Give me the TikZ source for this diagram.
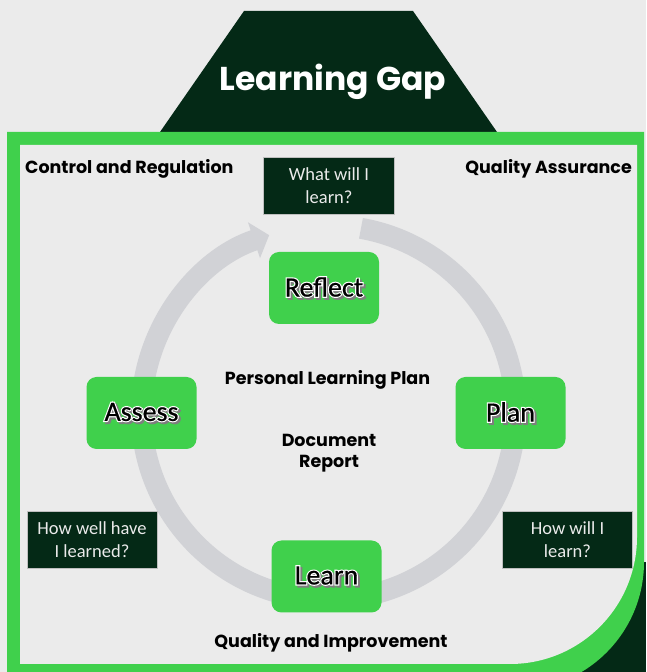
\documentclass[tikz,border=0pt]{standalone}
\usepackage{fontspec}
\usetikzlibrary{arrows.meta}
\newfontfamily\popfont{Poppins}
\newfontfamily\calfont{Carlito}
\newfontfamily\calthick[FakeBold=0.6]{Carlito}
\newfontfamily\calglow[FakeBold=9]{Carlito}
\definecolor{darkGreen}{HTML}{042916}
\definecolor{brightGreen}{HTML}{40D04C}
\definecolor{ringGray}{HTML}{D1D2D6}
\definecolor{paperGray}{HTML}{EBEBEB}
\definecolor{shadeGray}{HTML}{7E7E7E}
\newcommand\stagetext[1]{%
  \makebox[0pt][l]{\hspace{2pt}\raisebox{-2pt}{\calglow\color{shadeGray}#1}}%
  \makebox[0pt][l]{\calglow\color{white}#1}%
  {\calthick#1}}
\begin{document}
\begin{tikzpicture}[x=1pt, y=1pt,
    stageStyle/.style={rectangle, rounded corners=10pt, fill=brightGreen, minimum width=110pt, minimum height=72pt, font=\calfont\fontsize{28}{30}\selectfont},
    questionStyle/.style={rectangle, fill=darkGreen, draw=white!75!black, line width=0.8pt, minimum width=131pt, minimum height=57pt, inner sep=0pt, text=white!92!black, align=center, font=\calfont\fontsize{18.5}{23}\selectfont},
    labelStyle/.style={inner sep=0pt, font=\popfont\bfseries\fontsize{17.5}{21}\selectfont}]
    \useasboundingbox[fill=paperGray] (0,0) rectangle (646,672);

    % title block
    \fill[darkGreen] (244,661) -- (413,661) -- (497,540) -- (160,540) -- cycle;
    \node[anchor=base, text=white, font=\popfont\bfseries\fontsize{33}{40}\selectfont] (gapTitle) at (333,581) {Learning Gap};

    % frame
    \fill[darkGreen] (560,0) rectangle (646,110);
    \fill[brightGreen] (7,540) -- (644,540) -- (644,110) arc[start angle=0, end angle=-90, radius=128] -- (7,-18) -- cycle;
    \fill[paperGray] (20,527) -- (637,527) -- (637,135) arc[start angle=0, end angle=-90, radius=127] -- (20,8) -- cycle;

    % cycle
    \coordinate (hub) at (328.5,259.5);
    \draw[ringGray, line width=21pt, -{Triangle[length=16pt, width=37pt]}] ([shift={(80:187)}]hub) arc[start angle=80, end angle=-251.5, radius=187];

    \node[stageStyle] (reflect) at (324,384)   {\stagetext{Reflect}};
    \node[stageStyle] (assess)  at (141.5,259) {\stagetext{Assess}};
    \node[stageStyle] (plan)    at (510.5,259) {\stagetext{Plan}};
    \node[stageStyle] (learn)   at (326.5,95.5) {\stagetext{Learn}};

    \node[questionStyle] (whatQ)    at (329,486.5) {What will I\\learn?};
    \node[questionStyle, minimum width=130pt] (howWellQ) at (92,132.5)  {How well have\\I learned?};
    \node[questionStyle, minimum width=130pt] (howQ)     at (567.5,132.5) {How will I\\learn?};

    % labels
    \node[labelStyle, anchor=base west] (controlLbl)   at (25,498)    {Control and Regulation};
    \node[labelStyle, anchor=base east] (assuranceLbl) at (632,498)   {Quality Assurance};
    \node[labelStyle, anchor=base]      (planLbl)      at (327.5,287) {Personal Learning Plan};
    \node[labelStyle, align=center]     (reportLbl)    at (329,218.5) {Document\\Report};
    \node[labelStyle, anchor=base]      (improveLbl)   at (331,24)    {Quality and Improvement};
\end{tikzpicture}
\end{document}
